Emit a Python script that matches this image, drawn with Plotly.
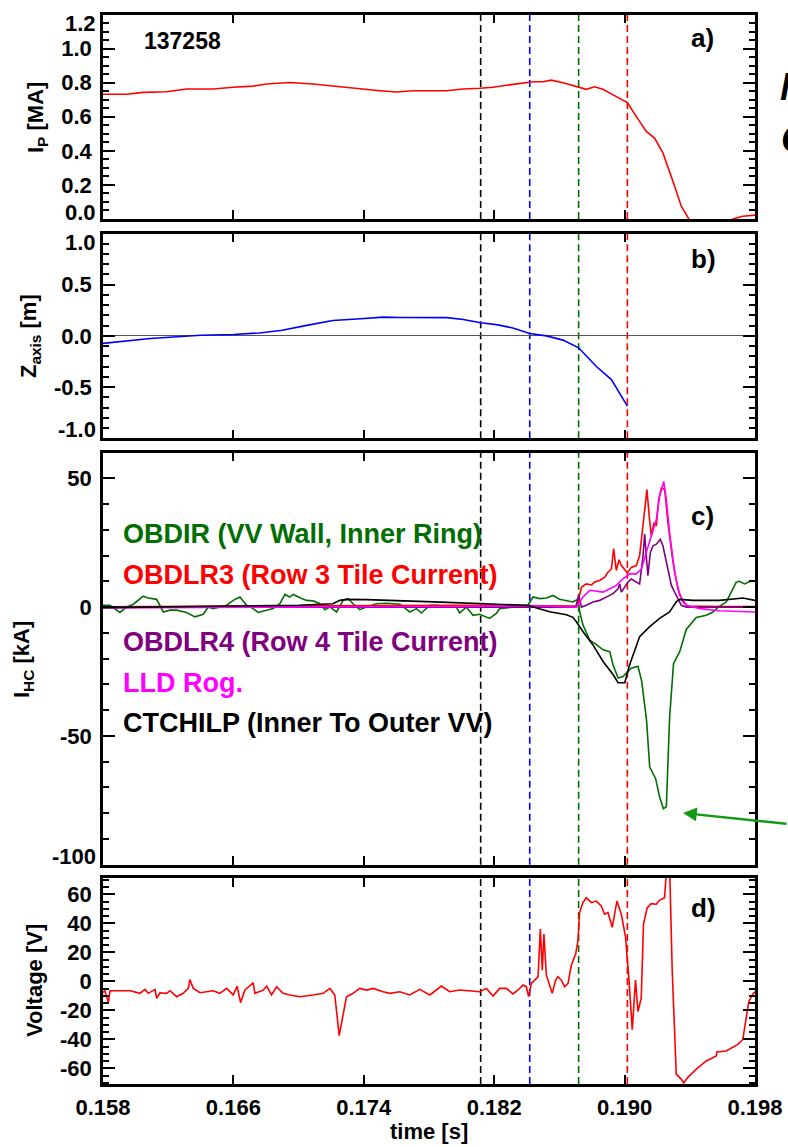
import plotly.graph_objects as go

W, H = 788, 1147
FONT = "Liberation Sans"

# ---------------- data ----------------
shot_label = "137258"
x_tick_vals = [0.158, 0.166, 0.174, 0.182, 0.190, 0.198]
x_tick_text = ["0.158", "0.166", "0.174", "0.182", "0.190", "0.198"]

# event times (dashed markers) and their colours
event_times = [0.18117, 0.18418, 0.18718, 0.19017]
event_colors = ["#000000", "#0000ff", "#006e00", "#ff0000"]

# a) plasma current [MA]
t_ip = [0.15800, 0.15945, 0.16047, 0.16190, 0.16313, 0.16476, 0.16599, 0.16721, 0.16804, 0.16946,
        0.17089, 0.17212, 0.17334, 0.17416, 0.17498, 0.17600, 0.17702, 0.17907, 0.18009, 0.18111,
        0.18193, 0.18315, 0.18377, 0.18438, 0.18499, 0.18550, 0.18622, 0.18718, 0.18765, 0.18816,
        0.18867, 0.18949, 0.19017, 0.19072, 0.19133, 0.19184, 0.19235, 0.19296, 0.19347, 0.19394,
        0.19450, 0.19550, 0.19620, 0.19664, 0.19725, 0.19800]
ip = [0.732, 0.732, 0.743, 0.747, 0.763, 0.763, 0.773, 0.780, 0.792, 0.801,
      0.792, 0.780, 0.767, 0.757, 0.753, 0.745, 0.753, 0.753, 0.763, 0.767,
      0.773, 0.790, 0.796, 0.805, 0.805, 0.815, 0.800, 0.776, 0.761, 0.776,
      0.761, 0.718, 0.683, 0.601, 0.514, 0.475, 0.388, 0.223, 0.077, 0.0,
      -0.05, -0.07, -0.03, 0.0, 0.016, 0.023]

# b) magnetic axis height [m]
t_z = [0.1580, 0.1609, 0.1640, 0.1660, 0.1676, 0.1690, 0.1705, 0.1721, 0.1738, 0.1752,
       0.1762, 0.1780, 0.1791, 0.1801, 0.18117, 0.18213, 0.18315, 0.18418, 0.18520, 0.18622,
       0.18718, 0.18827, 0.18919, 0.19017]
zaxis = [-0.073, -0.025, 0.007, 0.013, 0.029, 0.055, 0.103, 0.151, 0.168, 0.183,
         0.180, 0.183, 0.178, 0.160, 0.129, 0.110, 0.077, 0.023, 0.0, -0.041,
         -0.116, -0.299, -0.427, -0.685]

# c) halo currents [kA]
t_obdir = [0.15800, 0.15843, 0.15904, 0.15945, 0.15986, 0.16047, 0.16078, 0.16129, 0.16170, 0.16211,
           0.16252, 0.16313, 0.16364, 0.16415, 0.16446, 0.16476, 0.16558, 0.16599, 0.16640, 0.16681,
           0.16721, 0.16752, 0.16804, 0.16844, 0.16885, 0.16916, 0.16946, 0.16967, 0.17008, 0.17049,
           0.17089, 0.17130, 0.17161, 0.17192, 0.17233, 0.17273, 0.17304, 0.17334, 0.17375, 0.17416,
           0.17478, 0.17539, 0.17621, 0.17682, 0.17723, 0.17753, 0.17805, 0.17856, 0.17907, 0.17968,
           0.17988, 0.18029, 0.18070, 0.18111, 0.18172, 0.18213, 0.18234, 0.18275, 0.18336, 0.18407,
           0.18438, 0.18479, 0.18520, 0.18561, 0.18601, 0.18642, 0.18683, 0.18712, 0.18725, 0.18745,
           0.18786, 0.18827, 0.18868, 0.18909, 0.18929, 0.18960, 0.18990, 0.19011, 0.19041, 0.19082,
           0.19105, 0.19135, 0.19154, 0.19190, 0.19215, 0.19238, 0.19256, 0.19276, 0.19300, 0.19338,
           0.19379, 0.19440, 0.19501, 0.19542, 0.19575, 0.19624, 0.19654, 0.19685, 0.19705, 0.19736,
           0.19767, 0.19800]
obdir = [0.7, 0.7, -2.1, 0.05, 1.1, 4.2, 3.5, 3.0, -1.9, -1.2,
         -1.2, -2.1, -3.8, -2.8, 0.05, -0.6, 0.7, 2.6, 3.9, 0.7,
         -0.6, -2.1, -1.2, -0.6, 1.3, 4.9, 3.9, 4.9, 3.6, 2.6,
         2.4, 1.3, -1.0, 0.05, -1.9, 2.6, 3.3, 1.3, -1.0, 0.05,
         1.3, 1.5, 1.1, -1.9, -0.6, -2.3, 0.7, 0.7, 0.0, 0.0,
         -2.3, 0.0, -3.2, -2.8, -4.4, -2.5, -0.6, -0.3, 0.0, 0.7,
         3.9, 3.3, 3.5, 4.5, 3.0, 2.6, 2.0, 3.0, -1.9, -7.0,
         -12.8, -14.6, -16.6, -17.3, -22.4, -27.5, -27.0, -25.6, -23.7, -23.0,
         -28.8, -44.2, -62.1, -66.5, -73.7, -78.3, -77.5, -43.0, -22.0, -17.3,
         -8.6, -4.0, -3.2, -1.9, 0.0, 2.0, 5.8, 9.7, 10.0, 9.0,
         9.9, 10.0]

t_obdlr3 = [0.15800, 0.16600, 0.17200, 0.17600, 0.18000, 0.18420, 0.18600, 0.18704, 0.18714, 0.18735,
            0.18765, 0.18796, 0.18817, 0.18847, 0.18878, 0.18898, 0.18919, 0.18933, 0.18949, 0.18966,
            0.18980, 0.19000, 0.19017, 0.19041, 0.19072, 0.19092, 0.19113, 0.19129, 0.19137, 0.19150,
            0.19164, 0.19180, 0.19195, 0.19209, 0.19225, 0.19246, 0.19266, 0.19297, 0.19327, 0.19358,
            0.19389, 0.19600, 0.19800]
obdlr3 = [0.1, 0.2, 0.3, 0.6, 0.7, 0.6, 0.4, 0.4, 2.0, 7.7,
          9.0, 8.6, 9.7, 10.3, 11.6, 13.5, 14.8, 22.7, 14.2, 18.4,
          16.1, 14.8, 13.3, 15.4, 16.1, 19.9, 32.7, 43.0, 45.6, 35.9,
          27.6, 32.7, 31.5, 41.7, 46.2, 45.6, 32.7, 17.4, 7.1, 2.0,
          0.4, 0.2, 0.2]

t_obdlr4 = [0.15800, 0.17500, 0.18700, 0.18718, 0.18735, 0.18765, 0.18806, 0.18847, 0.18888, 0.18929,
            0.18960, 0.18970, 0.18980, 0.19001, 0.19021, 0.19041, 0.19072, 0.19092, 0.19113, 0.19123,
            0.19133, 0.19143, 0.19158, 0.19174, 0.19195, 0.19219, 0.19235, 0.19256, 0.19287, 0.19317,
            0.19348, 0.19379, 0.19800]
obdlr4 = [0.0, 0.1, 0.0, 4.5, 0.0, 0.7, 2.0, 2.6, 3.9, 5.2,
          7.1, 9.0, 5.8, 7.7, 9.7, 10.9, 9.7, 9.0, 19.9, 28.3,
          19.9, 12.2, 21.2, 23.8, 24.4, 26.3, 23.8, 17.4, 8.4, 4.5,
          0.7, 0.0, 0.0]

t_lld = [0.15800, 0.16500, 0.17200, 0.18000, 0.18420, 0.18600, 0.18704, 0.18718, 0.18745, 0.18786,
         0.18827, 0.18868, 0.18909, 0.18950, 0.18990, 0.19031, 0.19072, 0.19103, 0.19133, 0.19164,
         0.19195, 0.19215, 0.19240, 0.19256, 0.19276, 0.19307, 0.19338, 0.19379, 0.19460, 0.19583,
         0.19800]
lld = [-0.3, 0.0, 0.1, 0.2, 0.6, 0.1, 0.0, 1.3, 3.9, 6.5,
       6.1, 5.8, 7.1, 8.4, 11.0, 12.9, 12.9, 14.8, 21.2, 27.6,
       34.0, 43.0, 48.8, 41.7, 28.9, 13.5, 4.5, 0.7, -0.6, -1.4,
       -1.9]

t_ctchilp = [0.15800, 0.16400, 0.17000, 0.17210, 0.17253, 0.17294, 0.17417, 0.17830, 0.18234, 0.18397,
             0.18418, 0.18540, 0.18643, 0.18683, 0.18704, 0.18745, 0.18806, 0.18868, 0.18929, 0.18960,
             0.19001, 0.19031, 0.19092, 0.19154, 0.19215, 0.19276, 0.19317, 0.19338, 0.19419, 0.19583,
             0.19726, 0.19800]
ctchilp = [-0.2, 0.3, 0.7, 1.3, 2.6, 3.0, 2.9, 2.0, 1.2, 0.7,
           0.4, -1.8, -3.0, -4.0, -5.7, -9.6, -14.7, -21.1, -26.2, -29.4,
           -29.4, -22.4, -11.5, -7.6, -4.4, -1.9, 2.0, 3.0, 2.6, 2.6,
           3.5, 2.6]

# d) voltage [V]
t_volt = [0.15800, 0.15812, 0.15833, 0.15843, 0.15904, 0.15966, 0.16027, 0.16057, 0.16078, 0.16119,
          0.16129, 0.16150, 0.16191, 0.16211, 0.16252, 0.16292, 0.16323, 0.16333, 0.16354, 0.16395,
          0.16476, 0.16517, 0.16558, 0.16599, 0.16623, 0.16644, 0.16670, 0.16721, 0.16732, 0.16783,
          0.16804, 0.16834, 0.16865, 0.16905, 0.16946, 0.17008, 0.17089, 0.17151, 0.17192, 0.17222,
          0.17249, 0.17273, 0.17294, 0.17334, 0.17375, 0.17417, 0.17457, 0.17518, 0.17559, 0.17621,
          0.17682, 0.17743, 0.17805, 0.17876, 0.17927, 0.17988, 0.18050, 0.18111, 0.18152, 0.18193,
          0.18234, 0.18275, 0.18315, 0.18346, 0.18377, 0.18397, 0.18411, 0.18428, 0.18469, 0.18483,
          0.18495, 0.18505, 0.18520, 0.18540, 0.18556, 0.18577, 0.18591, 0.18612, 0.18632, 0.18653,
          0.18673, 0.18700, 0.18714, 0.18724, 0.18744, 0.18765, 0.18796, 0.18826, 0.18857, 0.18877,
          0.18898, 0.18924, 0.18953, 0.18980, 0.19006, 0.19027, 0.19047, 0.19067, 0.19082, 0.19102,
          0.19116, 0.19139, 0.19163, 0.19194, 0.19214, 0.19245, 0.19259, 0.19276, 0.19292, 0.19317,
          0.19347, 0.19362, 0.19388, 0.19440, 0.19501, 0.19562, 0.19566, 0.19623, 0.19695, 0.19725,
          0.19746, 0.19762, 0.19787, 0.19800]
volt = [-7.8, -6.4, -14.6, -6.4, -6.4, -6.4, -8.2, -5.5, -8.2, -5.5,
        -11.6, -7.8, -8.2, -6.4, -10.5, -8.2, -4.8, 1.3, -4.8, -7.8,
        -6.4, -8.2, -4.8, -9.3, -3.2, -14.6, -6.0, -0.9, -8.2, -6.0,
        -3.2, -9.3, -3.7, -8.2, -9.3, -10.5, -9.3, -8.2, -4.8, -9.3,
        -37.3, -21.8, -10.5, -8.2, -4.8, -6.0, -4.8, -7.1, -8.2, -7.1,
        -9.3, -5.5, -9.3, -3.2, -7.1, -5.9, -6.6, -7.1, -4.8, -10.0,
        -4.8, -4.8, -8.6, -5.9, -2.5, -3.6, -10.5, -1.4, 3.2, 36.1,
        7.7, 32.7, 4.3, -3.6, -8.2, 0.9, 3.2, 0.9, -3.6, -1.4,
        11.1, 19.1, 28.2, 47.5, 54.3, 57.7, 54.3, 55.4, 52.0, 46.4,
        47.5, 37.3, 55.4, 46.4, 30.4, 0.9, -33.2, 0.9, -20.7, -11.6,
        39.5, 50.9, 53.6, 53.2, 55.9, 57.7, 80.0, 80.0, 7.7, -63.9,
        -67.3, -70.0, -66.1, -60.5, -54.8, -51.4, -48.6, -48.0, -43.4, -40.0,
        -24.1, -13.9, -8.6, -7.1]

legend_names = ["OBDIR (VV Wall, Inner Ring)", "OBDLR3 (Row 3 Tile Current)",
                "OBDLR4 (Row 4 Tile Current)", "LLD Rog.", "CTCHILP (Inner To Outer VV)"]
colors = {"green": "#006e00", "red": "#ff0000", "purple": "#800080",
          "magenta": "#ff00ff", "black": "#000000", "blue": "#0000ff"}

# ---------------- figure ----------------
def fx(px):
    return px / W

def fy(py):
    return 1 - py / H

XDOM = [fx(103.0), fx(755.0)]
panels = {  # top/bottom in pixels
    "a": (14.5, 219.0),
    "b": (233.5, 438.3),
    "c": (452.5, 864.7),
    "d": (878.0, 1084.0),
}
dom = {k: [fy(b), fy(t)] for k, (t, b) in panels.items()}

fig = go.Figure()
LW = 1.6

fig.add_trace(go.Scatter(x=t_ip, y=ip, mode="lines", line=dict(color=colors["red"], width=LW),
                         xaxis="x", yaxis="y", showlegend=False))
fig.add_trace(go.Scatter(x=t_z, y=zaxis, mode="lines", line=dict(color=colors["blue"], width=LW),
                         xaxis="x2", yaxis="y2", showlegend=False))
for tx, vy, c in [(t_obdir, obdir, "green"), (t_obdlr3, obdlr3, "red"), (t_obdlr4, obdlr4, "purple"),
                  (t_lld, lld, "magenta"), (t_ctchilp, ctchilp, "black")]:
    fig.add_trace(go.Scatter(x=tx, y=vy, mode="lines", line=dict(color=colors[c], width=LW),
                             xaxis="x3", yaxis="y3", showlegend=False))
fig.add_trace(go.Scatter(x=t_volt, y=volt, mode="lines", line=dict(color=colors["red"], width=LW),
                         xaxis="x4", yaxis="y4", showlegend=False))

# dashed event lines in every panel
shapes = []
for xa, ya in [("x", "y"), ("x2", "y2"), ("x3", "y3"), ("x4", "y4")]:
    for tev, col in zip(event_times, event_colors):
        shapes.append(dict(type="line", xref=xa, yref=ya + " domain", x0=tev, x1=tev, y0=0, y1=1,
                           line=dict(color=col, width=1.6, dash="7px,4px"), layer="below"))

tickfont = dict(family=FONT, size=22, color="black", weight="bold")

def xax(anchor, labels):
    return dict(domain=XDOM, anchor=anchor, range=[0.158, 0.198], tickmode="array",
                tickvals=x_tick_vals, ticktext=x_tick_text, showticklabels=labels,
                ticks="inside", ticklen=9, tickwidth=2, tickcolor="black",
                showline=True, linewidth=2.5, linecolor="black", mirror="ticks",
                showgrid=False, zeroline=False, tickfont=tickfont, ticklabelstandoff=2,
                automargin=False)

def yax(key, anchor, rng, vals, texts, minor_dtick, zeroline=False):
    return dict(domain=dom[key], anchor=anchor, range=rng, tickmode="array", tickvals=vals,
                ticktext=texts, ticks="inside", ticklen=12, tickwidth=2, tickcolor="black",
                minor=dict(ticks="inside", ticklen=6, tickwidth=2, tickcolor="black",
                           tickmode="linear", tick0=0, dtick=minor_dtick),
                showline=True, linewidth=2.5, linecolor="black", mirror="ticks",
                showgrid=False, zeroline=zeroline, zerolinecolor="#555555", zerolinewidth=1,
                tickfont=tickfont, ticklabelstandoff=4, automargin=False)

ya_vals = [0.0, 0.2, 0.4, 0.6, 0.8, 1.0, 1.2]
ya_text = ["", "0.2", "0.4", "0.6", "0.8", "1.0", ""]
yb_vals = [-1.0, -0.5, 0.0, 0.5, 1.0]
yb_text = ["", "-0.5", "0.0", "0.5", ""]
yc_vals = [-100, -50, 0, 50]
yc_text = ["", "-50", "0", "50"]
yd_vals = [-60, -40, -20, 0, 20, 40, 60]
yd_text = ["-60", "-40", "-20", "0", "20", "40", "60"]

annotations = []
def ann(text, x, y, size=22, color="black", xanchor="left", yanchor="middle", xref="paper",
        yref="paper", angle=0, yshift=0):
    annotations.append(dict(text="<b>" + text + "</b>", x=x, y=y, xref=xref, yref=yref,
                            xanchor=xanchor, yanchor=yanchor, showarrow=False, textangle=angle,
                            yshift=yshift, borderpad=0,
                            font=dict(family=FONT, size=size, color=color)))

# end-of-axis tick labels (drawn nudged inward, as in the original)
ann("1.2", fx(97), 1.2, xanchor="right", yref="y", yshift=-9)
ann("0.0", fx(97), 0.0, xanchor="right", yref="y", yshift=7)
ann("1.0", fx(97), 1.0, xanchor="right", yref="y2", yshift=-9)
ann("-1.0", fx(97), -1.0, xanchor="right", yref="y2", yshift=9)
ann("-100", fx(97), -100, xanchor="right", yref="y3", yshift=8)

# axis titles
ann("I<sub>P</sub> [MA]", fx(37), fy(118), xanchor="center", angle=-90)
ann("Z<sub>axis</sub> [m]", fx(30), fy(336), xanchor="center", angle=-90)
ann("I<sub>HC</sub> [kA]", fx(23), fy(660), xanchor="center", angle=-90)
ann("Voltage [V]", fx(34), fy(981), xanchor="center", angle=-90)
ann("time [s]", fx(429), fy(1131), xanchor="center")

# panel labels and shot number
ann(shot_label, fx(143), fy(41), size=23)
ann("a)", fx(690), fy(38), size=26)
ann("b)", fx(690), fy(259), size=26)
ann("c)", fx(690), fy(516), size=26)
ann("d)", fx(690), fy(908), size=26)

# legend text of panel c
leg_cols = ["green", "red", "purple", "magenta", "black"]
leg_y = [534, 575, 642, 683, 723]
for name, c, yy in zip(legend_names, leg_cols, leg_y):
    ann(name, fx(122), fy(yy), size=27, color=colors[c])

# fragments of neighbouring text cut by the right edge
ann("<i>M</i>", fx(779), fy(87), size=38)
ann("<i>C</i>", fx(780), fy(139), size=38)

# arrow pointing at OBDIR minimum
annotations.append(dict(x=fx(683), y=fy(813), xref="paper", yref="paper", text="",
                        showarrow=True, arrowhead=2, arrowsize=1.1, arrowwidth=2.5,
                        arrowcolor="#139a13", ax=110, ay=11))

fig.update_layout(
    width=W, height=H, margin=dict(l=0, r=0, t=0, b=0, autoexpand=False), autosize=False,
    paper_bgcolor="white", plot_bgcolor="white",
    xaxis=xax("y", False),
    xaxis2=xax("y2", False),
    xaxis3=xax("y3", False),
    xaxis4=xax("y4", True),
    yaxis=yax("a", "x", [0, 1.2], ya_vals, ya_text, 0.05),
    yaxis2=yax("b", "x2", [-1, 1], yb_vals, yb_text, 0.1, zeroline=True),
    yaxis3=yax("c", "x3", [-100, 60], yc_vals, yc_text, 10),
    yaxis4=yax("d", "x4", [-70.7, 71.3], yd_vals, yd_text, 5),
    shapes=shapes, annotations=annotations, showlegend=False,
)
for k in ["xaxis2", "xaxis3", "xaxis4"]:
    fig.layout[k].matches = "x"

fig.write_html("out.html")
